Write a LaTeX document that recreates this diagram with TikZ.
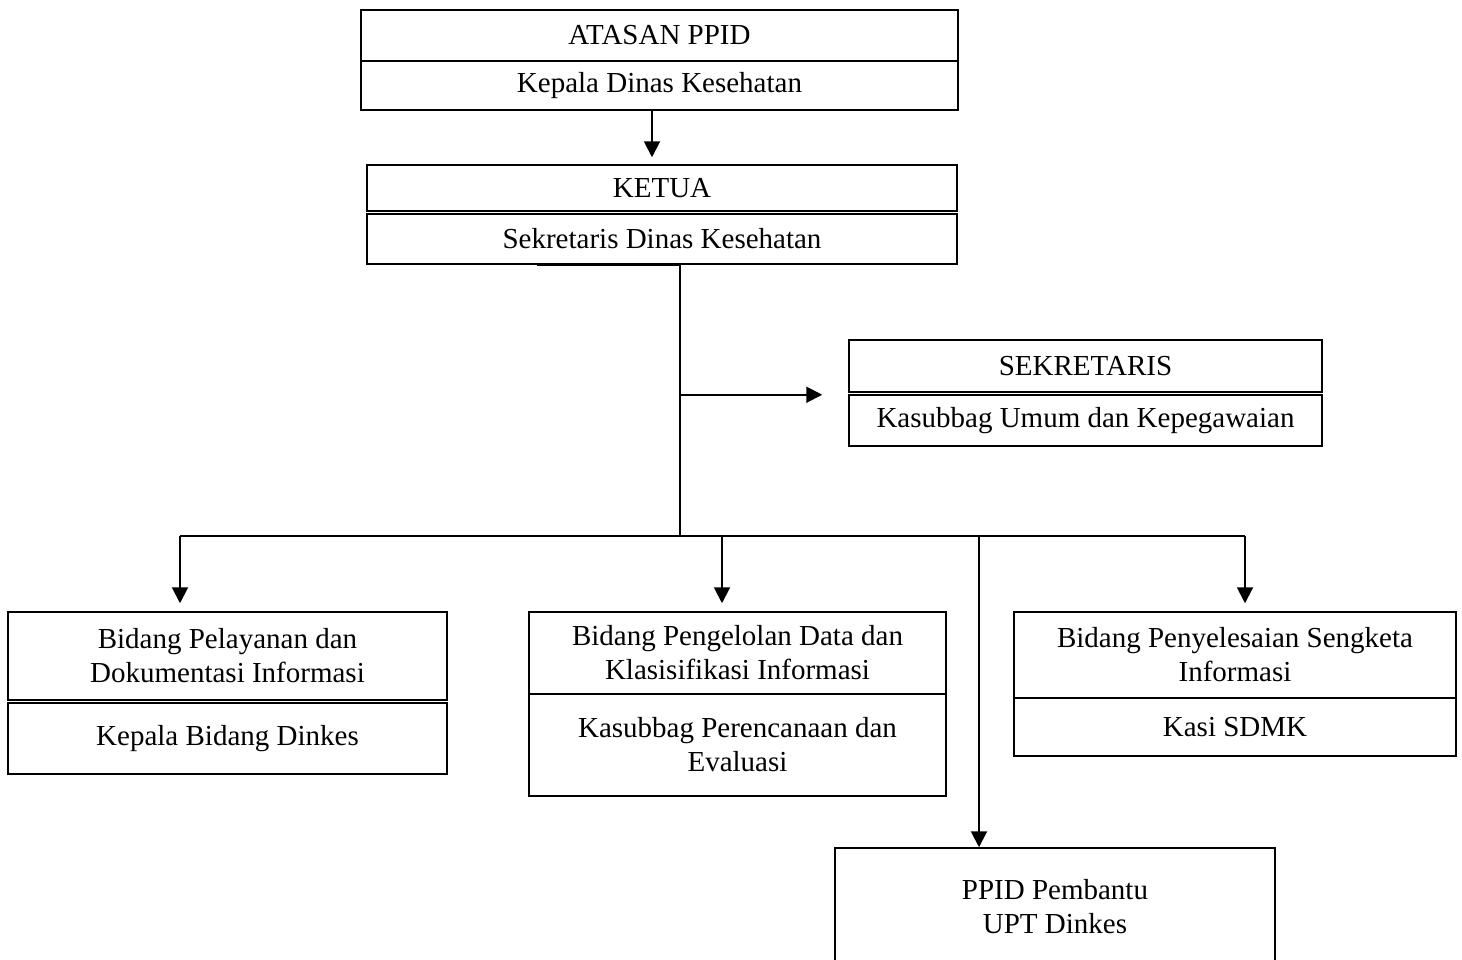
\documentclass[tikz,border=0pt]{standalone}
\usepackage{fontspec}
\setmainfont{Liberation Serif}
\usetikzlibrary{arrows.meta}
\newcommand{\pxu}{0.5pt}
\tikzset{orgbox/.style 2 args={draw, line width=0.75pt, inner sep=0pt, align=center, font=\fontsize{14.5}{17}\selectfont, minimum width=#1*\pxu, minimum height=#2*\pxu}}
\tikzset{link/.style={line width=1pt}, linkarr/.style={line width=1pt, -{Triangle[length=8pt,width=8pt]}}}

\begin{document}
\begin{tikzpicture}[x=0.5pt,y=-0.5pt]
\useasboundingbox (0,0) rectangle (1462,959);

\node[orgbox={597}{51}] (atasanTop) at (659.5,35.5) {ATASAN PPID};
\node[orgbox={597}{49}] (atasanBot) at (659.5,85.5) {Kepala Dinas Kesehatan};

\node[orgbox={590}{46}] (ketuaTop) at (662,188) {KETUA};
\node[orgbox={590}{50}] (ketuaBot) at (662,239) {Sekretaris Dinas Kesehatan};

\node[orgbox={473}{52}] (sekTop) at (1085.5,366) {SEKRETARIS};
\node[orgbox={473}{51}] (sekBot) at (1085.5,420.5) {Kasubbag Umum dan Kepegawaian};

\node[orgbox={439}{88}] (pelTop) at (227.5,656) {Bidang Pelayanan dan\\Dokumentasi Informasi};
\node[orgbox={439}{71}] (pelBot) at (227.5,738.5) {Kepala Bidang Dinkes};

\node[orgbox={417}{82}] (pengTop) at (737.5,653) {Bidang Pengelolan Data dan\\Klasisifikasi Informasi};
\node[orgbox={417}{102}] (pengBot) at (737.5,745) {Kasubbag Perencanaan dan\\Evaluasi};

\node[orgbox={442}{86}] (sengTop) at (1235,655) {Bidang Penyelesaian Sengketa\\Informasi};
\node[orgbox={442}{58}] (sengBot) at (1235,727) {Kasi SDMK};

\node[orgbox={440}{117}] (ppid) at (1055,906.5) {PPID Pembantu\\UPT Dinkes};

% atasan to ketua
\draw[linkarr, shorten >=3.5pt] ([xshift=-3.75pt]atasanBot.south) -- ([xshift=-3.75pt]atasanBot.south |- ketuaTop.north);

% trunk and branches
\coordinate (trunk) at ([xshift=9pt]ketuaBot.south);
\coordinate (hub) at (680,536);
\draw[link] ([xshift=-62.5pt]ketuaBot.south) -- (trunk) -- (hub);
\draw[linkarr, shorten >=13pt] ([yshift=-1pt]trunk |- sekTop.south west) -- ([yshift=-1pt]sekTop.south west);

\coordinate (busL) at (180,536);
\coordinate (busPeng) at (722,536);
\coordinate (busPpid) at (979,536);
\coordinate (busR) at (1245,536);
\draw[link] (busL) -- (busR);

\draw[linkarr, shorten >=4pt] (busL) -- (busL |- pelTop.north);
\draw[linkarr, shorten >=4pt] (busPeng) -- (busPeng |- pengTop.north);
\draw[linkarr, shorten >=4pt] (busR) -- (busR |- sengTop.north);
\draw[linkarr] (busPpid) -- (busPpid |- ppid.north);
\end{tikzpicture}
\end{document}
